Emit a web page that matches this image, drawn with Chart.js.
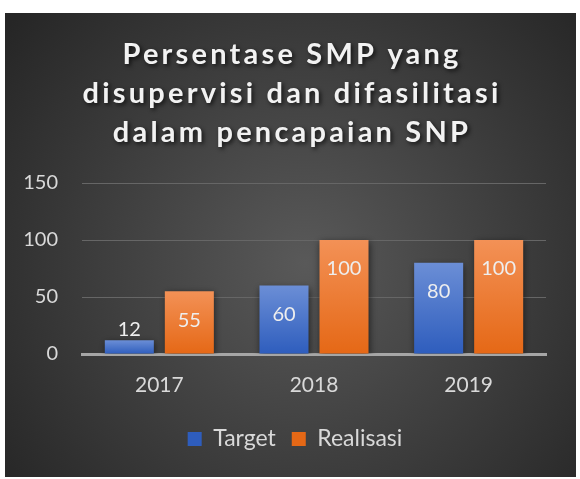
<!DOCTYPE html>
<html>
<head>
<meta charset="utf-8">
<script src="https://cdn.jsdelivr.net/npm/chart.js@4.4.0/dist/chart.umd.min.js"></script>
<style>
    html, body { margin: 0; padding: 0; background: #ffffff; }
    #wrap { position: absolute; left: 5px; top: 13px; width: 571px; height: 464px; }
</style>
</head>
<body>
<div id="wrap"><canvas id="grafik"></canvas></div>
<script>
// ---------------- DATA ----------------
const tahun = ['2017', '2018', '2019'];
const target = [12, 60, 80];
const realisasi = [55, 100, 100];
const judul = ['Persentase SMP yang', 'disupervisi dan difasilitasi', 'dalam pencapaian SNP'];

const FONT = 'Lato, "Open Sans", sans-serif';

// gradasi vertikal per batang
function gradienBatang(atas, tengah, bawah) {
    return function (context) {
        const chart = context.chart;
        if (context.type !== 'data' || !chart.chartArea) return tengah;
        const y = chart.scales.y;
        const top = y.getPixelForValue(context.raw);
        const base = y.getPixelForValue(0);
        const g = chart.ctx.createLinearGradient(0, top, 0, base);
        g.addColorStop(0, atas);
        g.addColorStop(1, bawah);
        return g;
    };
}

// latar belakang gelap
const latar = {
    id: 'latar',
    beforeDraw(chart) {
        const { ctx, width, height } = chart;
        const g = ctx.createRadialGradient(300, 250, 0, 300, 250, 380);
        g.addColorStop(0, '#595959');
        g.addColorStop(1, '#262626');
        ctx.save();
        ctx.fillStyle = g;
        ctx.fillRect(0, 0, width, height);
        ctx.restore();
    }
};

// bayangan batang
const bayangan = {
    id: 'bayangan',
    beforeDatasetsDraw(chart) {
        const ctx = chart.ctx;
        ctx.save();
        ctx.shadowColor = 'rgba(0,0,0,0.55)';
        ctx.shadowBlur = 7;
        ctx.shadowOffsetX = 1;
        ctx.shadowOffsetY = 2;
    },
    afterDatasetsDraw(chart) {
        chart.ctx.restore();
    }
};

// label nilai
const labelNilai = {
    id: 'labelNilai',
    afterDatasetsDraw(chart) {
        const ctx = chart.ctx;
        ctx.save();
        ctx.font = '20px ' + FONT;
        ctx.fillStyle = '#eeeeee';
        ctx.textAlign = 'center';
        ctx.textBaseline = 'middle';
        chart.data.datasets.forEach((ds, i) => {
            chart.getDatasetMeta(i).data.forEach((bar, j) => {
                const tinggi = bar.base - bar.y;
                const y = tinggi > 32 ? bar.y + 29 : bar.y - 11;
                ctx.fillText(String(ds.data[j]), bar.x, y);
            });
        });
        ctx.restore();
    }
};

// judul
const judulPlugin = {
    id: 'judulPlugin',
    afterDraw(chart) {
        const ctx = chart.ctx;
        ctx.save();
        ctx.font = 'bold 29px ' + FONT;
        ctx.letterSpacing = '3.2px';
        ctx.fillStyle = '#f2f2f2';
        ctx.textAlign = 'center';
        ctx.textBaseline = 'alphabetic';
        ctx.shadowColor = 'rgba(0,0,0,0.7)';
        ctx.shadowBlur = 4;
        ctx.shadowOffsetX = 2;
        ctx.shadowOffsetY = 2;
        judul.forEach((t, i) => ctx.fillText(t, chart.width / 2 + 1.5, 51 + i * 39));
        ctx.restore();
    }
};

const ctxGrafik = document.getElementById('grafik').getContext('2d');

new Chart(ctxGrafik, {
    type: 'bar',
    data: {
        labels: tahun,
        datasets: [
            {
                label: 'Target',
                data: target,
                backgroundColor: gradienBatang('#6b8ed6', '#4472c4', '#2e5dbd')
            },
            {
                label: 'Realisasi',
                data: realisasi,
                backgroundColor: gradienBatang('#f39156', '#ed7d31', '#e56816')
            }
        ]
    },
    options: {
        responsive: true,
        maintainAspectRatio: false,
        animation: false,
        datasets: { bar: { categoryPercentage: 0.776, barPercentage: 0.817 } },
        layout: { padding: { top: 170, right: 0, bottom: 16.5, left: 9 } },
        scales: {
            x: {
                z: 1,
                grid: { display: false, drawTicks: false },
                border: { color: '#a6a6a6', width: 3 },
                ticks: { color: '#d9d9d9', font: { family: FONT, size: 21 }, padding: 18.5 },
                afterFit(scale) { scale.height = 57.5; }
            },
            y: {
                min: 0,
                max: 150,
                grid: {
                    drawTicks: false,
                    color: (c) => c.tick && c.tick.value === 0 ? 'rgba(0,0,0,0)' : '#666666',
                    lineWidth: 1
                },
                border: { display: false },
                ticks: { stepSize: 50, color: '#d9d9d9', font: { family: FONT, size: 20 }, padding: 24 },
                afterFit(scale) { scale.width = 68; }
            },
            // sumbu kosong di kanan, hanya untuk ruang
            kanan: {
                axis: 'y',
                type: 'linear',
                position: 'right',
                grid: { display: false, drawTicks: false },
                border: { display: false },
                ticks: { display: false },
                afterFit(scale) { scale.width = 30; }
            }
        },
        plugins: {
            legend: {
                position: 'bottom',
                labels: {
                    color: '#d9d9d9',
                    font: { family: FONT, size: 23 },
                    boxWidth: 14,
                    boxHeight: 14,
                    padding: 16
                }
            },
            tooltip: { enabled: false },
            title: { display: false }
        }
    },
    plugins: [latar, bayangan, labelNilai, judulPlugin]
});
</script>
</body>
</html>
